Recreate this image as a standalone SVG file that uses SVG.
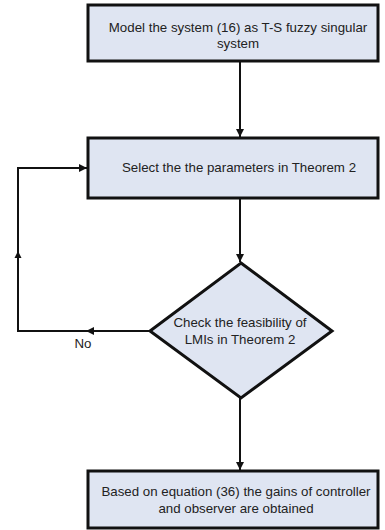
<svg xmlns="http://www.w3.org/2000/svg" width="385" height="530" viewBox="0 0 385 530">
  <style>
    .box { fill: #dfe5f2; stroke: #111; stroke-width: 3; }
    .lbl { font-family: "Liberation Sans", Arial, sans-serif; font-size: 13.3px; fill: #222; text-anchor: middle; }
    .wire { fill: none; stroke: #111; stroke-width: 2; }
  </style>
  <defs>
    <marker id="head" viewBox="0 0 10 10" refX="10" refY="5" markerWidth="4" markerHeight="4" orient="auto" markerUnits="strokeWidth">
      <path d="M0,0 L10,5 L0,10 z" fill="#111"/>
    </marker>
  </defs>
  <rect width="385" height="530" fill="#fff"/>

  <g id="connectors">
    <line class="wire" x1="240" y1="62" x2="240" y2="137" marker-end="url(#head)"/>
    <line class="wire" x1="240" y1="199" x2="240" y2="262" marker-end="url(#head)"/>
    <line class="wire" x1="240" y1="398" x2="240" y2="470" marker-end="url(#head)"/>
    <!-- "No" branch back to the parameter box -->
    <line class="wire" x1="150" y1="331" x2="86" y2="331" marker-end="url(#head)"/>
    <polyline class="wire" points="88,331 18,331 18,252"/>
    <path d="M18,251 L14.5,258 L21.5,258 z" fill="#111"/>
    <polyline class="wire" points="18,254 18,168 87,168" marker-end="url(#head)"/>
    <text class="lbl" x="83" y="348">No</text>
  </g>

  <g id="model">
    <rect class="box" x="88" y="5" width="290" height="56"/>
    <text class="lbl" x="238" y="32">Model the system (16) as T-S fuzzy singular</text>
    <text class="lbl" x="238" y="48">system</text>
  </g>

  <g id="select">
    <rect class="box" x="88" y="138" width="290" height="60"/>
    <text class="lbl" x="239" y="172">Select the the parameters in Theorem 2</text>
  </g>

  <g id="check">
    <polygon class="box" points="241,263 332,331 241,398 150,331"/>
    <text class="lbl" x="240" y="327">Check the feasibility of</text>
    <text class="lbl" x="240" y="344">LMIs in Theorem 2</text>
  </g>

  <g id="gains">
    <rect class="box" x="88" y="471" width="290" height="57"/>
    <text class="lbl" x="236" y="496">Based on equation (36) the gains of controller</text>
    <text class="lbl" x="236" y="513">and observer are obtained</text>
  </g>
</svg>
